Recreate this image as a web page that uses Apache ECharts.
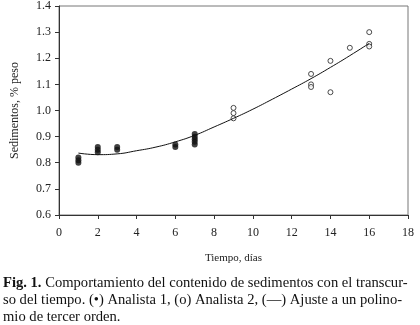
<!DOCTYPE html>
<html>
<head>
    <meta charset="utf-8">
    <title>Sedimentos</title>
    <script src="https://cdn.jsdelivr.net/npm/echarts@6/dist/echarts.min.js"></script>
</head>
<body style="margin:0;background:#fff;">
    <div id="main" style="width:420px;height:325px;"></div>
    <script type="text/javascript">
        // Analista 1 (filled), Analista 2 (open), cubic fit
        var analista1 = [
            [1, 0.80], [1, 0.81], [1, 0.82],
            [2, 0.84], [2, 0.85], [2, 0.86],
            [3, 0.85], [3, 0.86],
            [6, 0.86], [6, 0.87],
            [7, 0.87], [7, 0.88], [7, 0.89], [7, 0.90], [7, 0.91]
        ];
        var analista2 = [
            [9, 1.01], [9, 0.99], [9, 0.97],
            [13, 1.14], [13, 1.10], [13, 1.09],
            [14, 1.19], [14, 1.07],
            [15, 1.24],
            [16, 1.30], [16, 1.255], [16, 1.245]
        ];
        var ajusteX = [1, 2, 3, 4, 5, 6, 7, 8, 9, 10, 11, 12, 13, 14, 15, 16];
        var ajusteY = [0.837, 0.831, 0.834, 0.846, 0.860, 0.880, 0.905, 0.937, 0.970, 1.005, 1.043, 1.082, 1.122, 1.165, 1.210, 1.257];
        var xTicks = [0, 2, 4, 6, 8, 10, 12, 14, 16, 18];
        var yTicks = [0.6, 0.7, 0.8, 0.9, 1.0, 1.1, 1.2, 1.3, 1.4];

        var ajuste = ajusteX.map(function (x, i) { return [x, ajusteY[i]]; });
        var serif = '"Liberation Serif", "DejaVu Serif", serif';

        var myChart = echarts.init(document.getElementById('main'));

        option = {
            animation: false,
            backgroundColor: '#fff',
            grid: {
                left: 59, right: 12, top: 4, bottom: 110,
                show: true, borderColor: '#777', borderWidth: 1
            },
            xAxis: {
                type: 'value',
                min: xTicks[0], max: xTicks[xTicks.length - 1], interval: 2,
                name: 'Tiempo, días',
                nameLocation: 'middle',
                nameGap: 38,
                nameTextStyle: {fontFamily: serif, fontSize: 11, color: '#222'},
                axisLine: {onZero: false, lineStyle: {color: '#333'}},
                axisTick: {show: true, length: 4, lineStyle: {color: '#333'}},
                axisLabel: {fontFamily: serif, fontSize: 12, color: '#222', margin: 12},
                splitLine: {show: false}
            },
            yAxis: {
                type: 'value',
                min: yTicks[0], max: yTicks[yTicks.length - 1], interval: 0.1,
                name: 'Sedimentos, % peso',
                nameLocation: 'middle',
                nameGap: 38,
                nameTextStyle: {fontFamily: serif, fontSize: 12, color: '#222'},
                axisLine: {show: true, lineStyle: {color: '#333'}},
                axisTick: {show: true, length: 4, lineStyle: {color: '#333'}},
                axisLabel: {
                    fontFamily: serif, fontSize: 12, color: '#222', margin: 8,
                    formatter: function (v) { return v.toFixed(1); }
                },
                splitLine: {show: false}
            },
            series: [
                {
                    name: 'Ajuste', type: 'line', data: ajuste, smooth: true,
                    showSymbol: false, lineStyle: {color: '#111', width: 1}
                },
                {
                    name: 'Analista 1', type: 'scatter', data: analista1,
                    symbol: 'circle', symbolSize: 6,
                    itemStyle: {color: '#111'}
                },
                {
                    name: 'Analista 2', type: 'scatter', data: analista2,
                    symbol: 'circle', symbolSize: 5,
                    itemStyle: {color: '#fff', borderColor: '#222', borderWidth: 1}
                }
            ],
            graphic: [
                {
                    type: 'text', left: 3, top: 275,
                    style: {
                        text: '{b|Fig. 1.} Comportamiento del contenido de sedimentos con el transcur-\nso del tiempo. (•) Analista 1, (o) Analista 2, (—) Ajuste a un polino-\nmio de tercer orden.',
                        font: '14.6px ' + serif,
                        fill: '#111',
                        lineHeight: 17,
                        rich: {
                            b: {fontWeight: 'bold', fontFamily: serif, fontSize: 14.6, fill: '#111'}
                        }
                    }
                }
            ]
        };

        myChart.setOption(option);
    </script>
</body>
</html>
